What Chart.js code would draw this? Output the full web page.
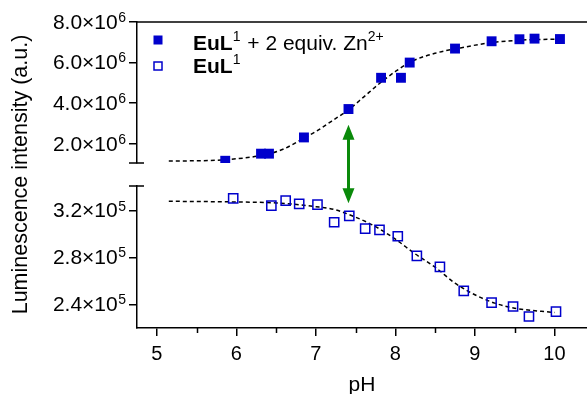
<!DOCTYPE html>
<html>
<head>
<meta charset="utf-8">
<script src="https://cdn.jsdelivr.net/npm/chart.js@4.4.0/dist/chart.umd.min.js"></script>
<style>
  html, body { margin: 0; padding: 0; background: #fff; }
  #wrap { width: 587px; height: 394px; }
</style>
</head>
<body>
<div id="wrap"><canvas id="chart" width="587" height="394"></canvas></div>
<script>
// ---------------------------------------------------------------------------
// Data
// ---------------------------------------------------------------------------

// EuL1 + 2 equiv. Zn2+ (filled squares, upper panel)
const phZn  = [5.86, 6.31, 6.41, 6.85, 7.41, 7.82, 8.07, 8.18, 8.75, 9.21, 9.56, 9.75, 10.07];
const intZn = [1.16e6, 1.51e6, 1.51e6, 2.31e6, 3.71e6, 5.25e6, 5.25e6, 6.00e6, 6.69e6, 7.05e6, 7.15e6, 7.18e6, 7.16e6];

// EuL1 (open squares, lower panel)
const phFree  = [5.96, 6.44, 6.62, 6.79, 7.02, 7.23, 7.42, 7.62, 7.80, 8.03, 8.27, 8.56, 8.86, 9.21, 9.48, 9.68, 10.02];
const intFree = [3.305e5, 3.243e5, 3.285e5, 3.257e5, 3.251e5, 3.101e5, 3.155e5, 3.047e5, 3.036e5,
                 2.982e5, 2.814e5, 2.721e5, 2.517e5, 2.417e5, 2.383e5, 2.298e5, 2.340e5];

// dashed fit curves
const fitZnPh  = [5.15, 5.5, 5.86, 6.4, 6.6, 6.85, 7.0, 7.2, 7.41, 7.6, 7.8, 8.0, 8.2, 8.5, 8.8, 9.2, 9.6, 10.07];
const fitZnInt = [1.15e6, 1.16e6, 1.21e6, 1.49e6, 1.75e6, 2.28e6, 2.60e6, 3.12e6, 3.67e6, 4.30e6,
                  4.97e6, 5.56e6, 6.05e6, 6.46e6, 6.71e6, 6.98e6, 7.11e6, 7.16e6];
const fitFreePh  = [5.15, 6.0, 6.5, 7.0, 7.25, 7.5, 7.75, 8.0, 8.25, 8.5, 8.75, 9.0, 9.25, 9.5, 10.0];
const fitFreeInt = [3.280e5, 3.274e5, 3.266e5, 3.234e5, 3.206e5, 3.144e5, 3.064e5, 2.957e5,
                    2.831e5, 2.718e5, 2.582e5, 2.483e5, 2.412e5, 2.369e5, 2.332e5];

// axes
const xTicks      = [5, 6, 7, 8, 9, 10];
const xMinorTicks = [5.5, 6.5, 7.5, 8.5, 9.5];
const upperTicks  = [2e6, 4e6, 6e6, 8e6];
const lowerTicks  = [2.4e5, 2.8e5, 3.2e5];
const yTitle = 'Luminescence intensity (a.u.)';

// green double arrow (pH, upper-panel value, lower-panel value)
const arrowPh = 7.41;
const arrowUpperValue = 2.93e6;
const arrowLowerValue = 3.263e5;

// ---------------------------------------------------------------------------
// Style
// ---------------------------------------------------------------------------

const FONT = "'Liberation Sans', Arial, Helvetica, sans-serif";
const BLUE = '#0000CC';
const GREEN = '#0A8A0A';
const AXIS_W = 1.5;
const LEFT_W = 137;   // width of y-axis area
const BOTTOM_H = 66;  // height of x-axis area

const toPoints = (xs, ys) => xs.map((x, i) => ({ x: x, y: ys[i] }));

const fixedTicks = (values) => (scale) => {
    scale.ticks = values.map(v => ({ value: v }));
};

// ---------------------------------------------------------------------------
// Custom drawing: sci-notation tick labels, legend, break marks, arrow
// ---------------------------------------------------------------------------

const drawSciLabel = (ctx, value, xRight, y) => {
    const exp = Math.floor(Math.log10(value) + 1e-9);
    const mant = (value / Math.pow(10, exp)).toFixed(1);
    ctx.font = '14px ' + FONT;
    const expW = ctx.measureText(String(exp)).width;
    ctx.textAlign = 'left';
    ctx.textBaseline = 'middle';
    ctx.fillText(String(exp), xRight - expW, y - 4);
    ctx.font = '21px ' + FONT;
    ctx.textAlign = 'right';
    ctx.fillText(mant + '\u00D710', xRight - expW - 0.5, y + 1);
};

const drawRich = (ctx, parts, x, y) => {
    ctx.textAlign = 'left';
    ctx.textBaseline = 'alphabetic';
    for (const p of parts) {
        const size = p.sup ? 14 : 21;
        ctx.font = (p.bold ? 'bold ' : '') + size + 'px ' + FONT;
        ctx.fillText(p.t, x, p.sup ? y - 9 : y);
        x += ctx.measureText(p.t).width + (p.sup ? 1 : 0);
    }
};

const decorPlugin = {
    id: 'decor',
    afterDraw(chart) {
        const ctx = chart.ctx;
        const area = chart.chartArea;
        const xs = chart.scales.x;
        const yUp = chart.scales.yUp;
        const yLow = chart.scales.yLow;

        ctx.save();
        ctx.strokeStyle = '#000';
        ctx.fillStyle = '#000';
        ctx.lineWidth = AXIS_W;

        // top frame line
        ctx.beginPath();
        ctx.moveTo(area.left, area.top);
        ctx.lineTo(chart.width, area.top);
        ctx.stroke();

        // axis break caps
        ctx.beginPath();
        ctx.moveTo(area.left - 8, yUp.bottom);
        ctx.lineTo(area.left + 7, yUp.bottom);
        ctx.moveTo(area.left - 8, yLow.top);
        ctx.lineTo(area.left + 7, yLow.top);
        ctx.stroke();

        // minor x ticks
        ctx.beginPath();
        xMinorTicks.forEach(v => {
            const px = Math.round(xs.getPixelForValue(v)) + 0.5;
            ctx.moveTo(px, area.bottom);
            ctx.lineTo(px, area.bottom + 5);
        });
        ctx.stroke();

        // y tick labels with superscript exponent
        upperTicks.forEach(v => drawSciLabel(ctx, v, area.left - 11, yUp.getPixelForValue(v)));
        lowerTicks.forEach(v => drawSciLabel(ctx, v, area.left - 11, yLow.getPixelForValue(v)));

        // y axis title, centred on the break
        ctx.save();
        ctx.translate(21, (yUp.bottom + yLow.top) / 2);
        ctx.rotate(-Math.PI / 2);
        ctx.font = '21.5px ' + FONT;
        ctx.textAlign = 'center';
        ctx.textBaseline = 'middle';
        ctx.fillText(yTitle, 0, 0);
        ctx.restore();

        // legend
        const mx = area.left + 21;
        ctx.fillStyle = BLUE;
        ctx.fillRect(mx - 4.5, area.top + 13.5, 9, 9);
        ctx.strokeStyle = BLUE;
        ctx.lineWidth = 1.5;
        ctx.strokeRect(mx - 4, area.top + 40, 8, 8);
        ctx.fillStyle = '#000';
        drawRich(ctx, [
            { t: 'EuL', bold: true },
            { t: '1', sup: true },
            { t: ' + 2 equiv. Zn' },
            { t: '2+', sup: true }
        ], area.left + 56, area.top + 28);
        drawRich(ctx, [
            { t: 'EuL', bold: true },
            { t: '1', sup: true }
        ], area.left + 56, area.top + 51);

        // green double arrow between the two panels
        const ax = xs.getPixelForValue(arrowPh);
        const aTop = yUp.getPixelForValue(arrowUpperValue);
        const aBot = yLow.getPixelForValue(arrowLowerValue);
        const head = 15, half = 6;
        ctx.strokeStyle = GREEN;
        ctx.fillStyle = GREEN;
        ctx.lineWidth = 3;
        ctx.beginPath();
        ctx.moveTo(ax, aTop + head - 1);
        ctx.lineTo(ax, aBot - head + 1);
        ctx.stroke();
        ctx.beginPath();
        ctx.moveTo(ax, aTop);
        ctx.lineTo(ax - half, aTop + head);
        ctx.lineTo(ax + half, aTop + head);
        ctx.closePath();
        ctx.moveTo(ax, aBot);
        ctx.lineTo(ax - half, aBot - head);
        ctx.lineTo(ax + half, aBot - head);
        ctx.closePath();
        ctx.fill();

        ctx.restore();
    }
};

// ---------------------------------------------------------------------------
// Chart
// ---------------------------------------------------------------------------

const yAxisBase = (min, max, weight, ticks) => ({
    type: 'linear',
    position: 'left',
    stack: 'y',
    stackWeight: weight,
    min: min,
    max: max,
    afterBuildTicks: fixedTicks(ticks),
    afterFit: (s) => { s.width = LEFT_W; },
    grid: { display: true, drawOnChartArea: false, drawTicks: true, tickLength: 8, tickColor: '#000', lineWidth: AXIS_W },
    border: { display: true, color: '#000', width: AXIS_W },
    ticks: { display: false }
});

new Chart(document.getElementById('chart'), {
    type: 'scatter',
    data: {
        datasets: [
            {
                label: 'fit EuL1 + Zn',
                data: toPoints(fitZnPh, fitZnInt),
                yAxisID: 'yUp',
                showLine: true,
                cubicInterpolationMode: 'monotone',
                borderColor: '#000',
                borderWidth: 1.5,
                borderDash: [4, 3],
                pointRadius: 0,
                order: 2
            },
            {
                label: 'fit EuL1',
                data: toPoints(fitFreePh, fitFreeInt),
                yAxisID: 'yLow',
                showLine: true,
                cubicInterpolationMode: 'monotone',
                borderColor: '#000',
                borderWidth: 1.5,
                borderDash: [4, 3],
                pointRadius: 0,
                order: 2
            },
            {
                label: 'EuL1 + 2 equiv. Zn2+',
                data: toPoints(phZn, intZn),
                yAxisID: 'yUp',
                pointStyle: 'rect',
                pointRadius: 7,
                backgroundColor: BLUE,
                borderColor: BLUE,
                borderWidth: 0,
                order: 1
            },
            {
                label: 'EuL1',
                data: toPoints(phFree, intFree),
                yAxisID: 'yLow',
                pointStyle: 'rect',
                pointRadius: 6.5,
                backgroundColor: 'rgba(255,255,255,0)',
                borderColor: BLUE,
                borderWidth: 1.5,
                order: 1
            }
        ]
    },
    options: {
        responsive: false,
        animation: false,
        devicePixelRatio: 1,
        layout: { autoPadding: false, padding: { top: 22, left: 0, right: 0, bottom: 0 } },
        plugins: {
            legend: { display: false },
            tooltip: { enabled: false }
        },
        scales: {
            x: {
                type: 'linear',
                position: 'bottom',
                min: 4.75,
                max: 10.41,
                afterBuildTicks: fixedTicks(xTicks),
                afterFit: (s) => {
                    s.height = BOTTOM_H;
                    s.paddingLeft = 0;
                    s.paddingRight = 0;
                },
                grid: { display: true, drawOnChartArea: false, drawTicks: true, tickLength: 8, tickColor: '#000', lineWidth: AXIS_W },
                border: { display: true, color: '#000', width: AXIS_W },
                ticks: { color: '#000', font: { family: FONT, size: 20 }, padding: 6, maxRotation: 0 },
                title: { display: true, text: 'pH', color: '#000', font: { family: FONT, size: 21, lineHeight: 0.8 }, padding: { top: 0, bottom: 0 } }
            },
            // stacked left axes: the last one listed sits on top
            yLow: yAxisBase(2.2e5, 3.41e5, 142, lowerTicks),
            yGap: {
                type: 'linear',
                position: 'left',
                stack: 'y',
                stackWeight: 23,
                min: 0,
                max: 1,
                afterFit: (s) => { s.width = LEFT_W; },
                grid: { display: false },
                border: { display: false },
                ticks: { display: false }
            },
            yUp: yAxisBase(1.05e6, 8e6, 141, upperTicks)
        }
    },
    plugins: [decorPlugin]
});
</script>
</body>
</html>
